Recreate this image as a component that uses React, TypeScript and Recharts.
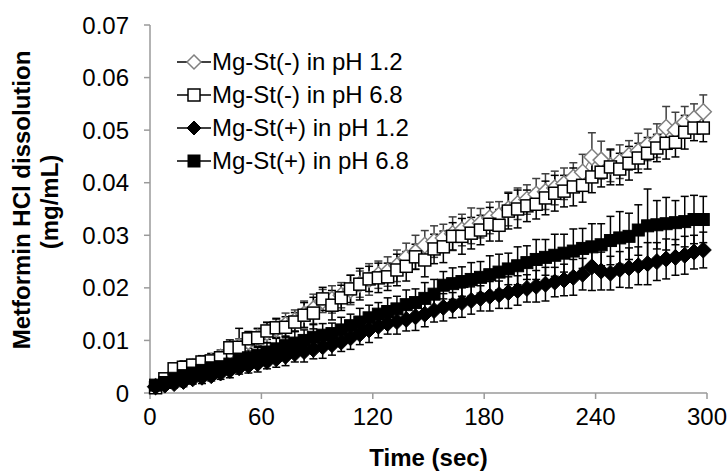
import { LineChart, Line, XAxis, YAxis, ErrorBar, Legend, Label } from 'recharts';

const FONT = '"Liberation Sans", Arial, sans-serif';

// sampling times (sec)
const times = [
  3, 8, 13, 18, 23, 28, 33, 38, 43, 48, 53, 58, 63, 68, 73, 78, 83, 88, 93, 98,
  103, 108, 113, 118, 123, 128, 133, 138, 143, 148, 153, 158, 163, 168, 173, 178, 183, 188, 193, 198,
  203, 208, 213, 218, 223, 228, 233, 238, 243, 248, 253, 258, 263, 268, 273, 278, 283, 288, 293, 298,
];

// Mg-St(-) in pH 1.2
const minusPh12 = [
  0.0012, 0.0022, 0.0035, 0.0045, 0.005, 0.0055, 0.006, 0.0068, 0.0078, 0.0088,
  0.0098, 0.0106, 0.0115, 0.0122, 0.013, 0.0138, 0.015, 0.016, 0.0175, 0.0178,
  0.0186, 0.0196, 0.0207, 0.0216, 0.0225, 0.0231, 0.0242, 0.0258, 0.0268, 0.0281,
  0.0288, 0.0295, 0.0303, 0.031, 0.0318, 0.0323, 0.0333, 0.0338, 0.035, 0.036,
  0.0368, 0.0378, 0.0383, 0.039, 0.0398, 0.041, 0.042, 0.0449, 0.0443, 0.0432,
  0.044, 0.0452, 0.046, 0.0472, 0.048, 0.0505, 0.05, 0.0515, 0.0522, 0.0535,
];
const minusPh12Err = [
  0.0008, 0.001, 0.0012, 0.0012, 0.0014, 0.0012, 0.0015, 0.0014, 0.0016, 0.0015,
  0.0018, 0.0016, 0.002, 0.0018, 0.0022, 0.002, 0.0025, 0.0028, 0.0022, 0.0026,
  0.0024, 0.0028, 0.0025, 0.003, 0.0026, 0.0028, 0.003, 0.0027, 0.0032, 0.0028,
  0.003, 0.0026, 0.0032, 0.003, 0.0034, 0.0028, 0.003, 0.0026, 0.0032, 0.003,
  0.0028, 0.003, 0.0034, 0.0032, 0.003, 0.0028, 0.0034, 0.0046, 0.0036, 0.003,
  0.0032, 0.0028, 0.0034, 0.003, 0.0032, 0.004, 0.0034, 0.003, 0.0028, 0.0032,
];

// Mg-St(-) in pH 6.8
const minusPh68 = [
  0.001, 0.0027, 0.0046, 0.0049, 0.0053, 0.0059, 0.0061, 0.0067, 0.0086, 0.0087,
  0.0103, 0.0105, 0.0118, 0.0124, 0.0125, 0.0135, 0.0148, 0.0152, 0.0179, 0.0167,
  0.0181, 0.0198, 0.0207, 0.0217, 0.0219, 0.0221, 0.0234, 0.0241, 0.0259, 0.0253,
  0.0274, 0.0278, 0.0298, 0.0298, 0.0304, 0.031, 0.0321, 0.0319, 0.0346, 0.035,
  0.0356, 0.0359, 0.0371, 0.038, 0.0384, 0.0392, 0.0395, 0.0411, 0.042, 0.043,
  0.0426, 0.0437, 0.0447, 0.0456, 0.0466, 0.0475, 0.0477, 0.0496, 0.0504, 0.0504,
];
const minusPh68Err = [
  0.0006, 0.0008, 0.001, 0.0012, 0.001, 0.0012, 0.0014, 0.0012, 0.0015, 0.0036,
  0.0014, 0.0018, 0.0016, 0.0018, 0.002, 0.0018, 0.0024, 0.003, 0.0022, 0.0028,
  0.0024, 0.0026, 0.003, 0.0024, 0.0028, 0.0026, 0.003, 0.0028, 0.0024, 0.0032,
  0.0028, 0.003, 0.0026, 0.0034, 0.003, 0.0028, 0.0032, 0.003, 0.0034, 0.0036,
  0.003, 0.0028, 0.0032, 0.0034, 0.003, 0.0036, 0.0032, 0.003, 0.0028, 0.0034,
  0.003, 0.0032, 0.0028, 0.003, 0.0026, 0.003, 0.0028, 0.0032, 0.0024, 0.0026,
];

// Mg-St(+) in pH 1.2
const plusPh12 = [
  0.0012, 0.0015, 0.0018, 0.0022, 0.0027, 0.003, 0.0033, 0.0038, 0.0043, 0.0048,
  0.0052, 0.0056, 0.006, 0.0065, 0.007, 0.0075, 0.0079, 0.0083, 0.0088, 0.0092,
  0.0097, 0.0105, 0.0112, 0.012, 0.0127, 0.0132, 0.0136, 0.014, 0.0145, 0.015,
  0.0157, 0.0163, 0.0167, 0.0172, 0.0176, 0.018, 0.0184, 0.0187, 0.0191, 0.0195,
  0.0199, 0.0203, 0.0207, 0.0211, 0.0215, 0.022, 0.0226, 0.024, 0.0232, 0.0228,
  0.0235, 0.0238, 0.0242, 0.0246, 0.025, 0.0255, 0.0258, 0.0262, 0.0268, 0.0272,
];
const plusPh12Err = [
  0.0006, 0.0008, 0.0008, 0.001, 0.001, 0.0012, 0.001, 0.0012, 0.0014, 0.0012,
  0.0014, 0.0016, 0.0014, 0.0016, 0.0018, 0.0016, 0.002, 0.0018, 0.0022, 0.002,
  0.0018, 0.0022, 0.002, 0.0024, 0.0022, 0.002, 0.0024, 0.0022, 0.0026, 0.0024,
  0.0022, 0.0026, 0.0024, 0.0028, 0.0026, 0.0024, 0.0028, 0.0026, 0.003, 0.0028,
  0.0026, 0.003, 0.0032, 0.0028, 0.003, 0.0034, 0.003, 0.0045, 0.0036, 0.0032,
  0.0034, 0.0038, 0.0036, 0.004, 0.0036, 0.0038, 0.0034, 0.0036, 0.0032, 0.0034,
];

// Mg-St(+) in pH 6.8
const plusPh68 = [
  0.0015, 0.002, 0.0028, 0.0033, 0.0038, 0.0043, 0.0048, 0.005, 0.0055, 0.0062,
  0.0067, 0.0072, 0.0078, 0.0084, 0.009, 0.0095, 0.01, 0.0106, 0.011, 0.0113,
  0.012, 0.0128, 0.0135, 0.0143, 0.015, 0.0155, 0.016, 0.0168, 0.0172, 0.018,
  0.0188, 0.0205, 0.0208, 0.0212, 0.0216, 0.022, 0.0225, 0.023, 0.0236, 0.0242,
  0.0248, 0.0254, 0.0258, 0.0262, 0.0266, 0.027, 0.0275, 0.0278, 0.0282, 0.029,
  0.0295, 0.0298, 0.031, 0.0318, 0.032, 0.0322, 0.0324, 0.0326, 0.033, 0.033,
];
const plusPh68Err = [
  0.0008, 0.001, 0.001, 0.0012, 0.0012, 0.0014, 0.0012, 0.0016, 0.0014, 0.0016,
  0.0018, 0.0016, 0.0018, 0.002, 0.0018, 0.0022, 0.002, 0.0024, 0.0022, 0.002,
  0.0024, 0.0022, 0.0026, 0.0024, 0.0022, 0.0026, 0.0024, 0.0028, 0.0026, 0.003,
  0.0028, 0.0026, 0.003, 0.0028, 0.0032, 0.003, 0.0036, 0.0034, 0.003, 0.0036,
  0.0032, 0.0038, 0.0034, 0.004, 0.0036, 0.0042, 0.0038, 0.0044, 0.004, 0.0046,
  0.005, 0.0044, 0.0048, 0.007, 0.0046, 0.005, 0.0042, 0.0048, 0.0046, 0.0044,
];

const xTicks = [0, 60, 120, 180, 240, 300];
const yTicks = [0, 0.01, 0.02, 0.03, 0.04, 0.05, 0.06, 0.07];

const seriesNames = [
  'Mg-St(-) in pH 1.2',
  'Mg-St(-) in pH 6.8',
  'Mg-St(+) in pH 1.2',
  'Mg-St(+) in pH 6.8',
];

const rows = times.map((t, i) => ({
  t,
  a: minusPh12[i],
  ea: minusPh12Err[i],
  b: minusPh68[i],
  eb: minusPh68Err[i],
  c: plusPh12[i],
  ec: plusPh12Err[i],
  d: plusPh68[i],
  ed: plusPh68Err[i],
}));

const AXIS = '#9a9a9a';
const GREY = '#808080';

const diamondPath = (cx: number, cy: number, r: number) =>
  `M${cx},${cy - r}L${cx + r},${cy}L${cx},${cy + r}L${cx - r},${cy}Z`;

// marker drawers, size s = half width
const markers = [
  (cx: number, cy: number, s = 8) => <path d={diamondPath(cx, cy, s)} fill="#fff" stroke={GREY} strokeWidth={1.5} />,
  (cx: number, cy: number, s = 6) => <rect x={cx - s} y={cy - s} width={2 * s} height={2 * s} fill="#fff" stroke="#000" strokeWidth={1.5} />,
  (cx: number, cy: number, s = 8) => <path d={diamondPath(cx, cy, s)} fill="#000" stroke="#000" strokeWidth={1} />,
  (cx: number, cy: number, s = 6) => <rect x={cx - s} y={cy - s} width={2 * s} height={2 * s} fill="#000" stroke="#000" strokeWidth={1} />,
];
const legendSizes = [7, 6, 7, 6];

const makeDot = (idx: number) => (props: any) => {
  const { cx, cy, index } = props;
  if (cx == null || cy == null) return <g key={`dot-${idx}-${index}`} />;
  return <g key={`dot-${idx}-${index}`}>{markers[idx](cx, cy)}</g>;
};

const LegendBox = () => (
  <div style={{ fontFamily: FONT, fontSize: 24, color: '#000' }}>
    {seriesNames.map((name, i) => (
      <div key={name} style={{ display: 'flex', alignItems: 'center', height: 33 }}>
        <svg width={36} height={20} style={{ marginRight: 0 }}>
          <line x1={1} y1={10} x2={35} y2={10} stroke="#000" strokeWidth={1.5} />
          {markers[i](18, 10, legendSizes[i])}
        </svg>
        <span>{name}</span>
      </div>
    ))}
  </div>
);

const YTitle = () => (
  <text transform="rotate(-90)" textAnchor="middle" fontFamily={FONT} fontWeight="bold" fontSize={24} fill="#000">
    <tspan x={-200} y={30}>Metformin HCl dissolution</tspan>
    <tspan x={-202} y={58}>(mg/mL)</tspan>
  </text>
);

export default function App() {
  const tickStyle = { fontFamily: FONT, fontSize: 24, fill: '#000' };
  return (
    <div style={{ position: 'absolute', left: 0, top: 0, background: '#fff' }}>
      <LineChart width={728} height={472} data={rows} margin={{ top: 25, right: 21, bottom: 0, left: 0 }}>
        <XAxis
          type="number"
          dataKey="t"
          domain={[0, 300]}
          ticks={xTicks}
          tick={tickStyle}
          tickSize={6}
          tickMargin={9}
          height={79}
          axisLine={{ stroke: AXIS, strokeWidth: 1.5 }}
          tickLine={{ stroke: AXIS, strokeWidth: 1.5 }}
        >
          <Label
            value="Time (sec)"
            position="insideBottom"
            offset={6}
            style={{ fontFamily: FONT, fontSize: 24, fontWeight: 'bold', fill: '#000' }}
          />
        </XAxis>
        <YAxis
          type="number"
          domain={[0, 0.07]}
          ticks={yTicks}
          tickFormatter={(v: number) => (v === 0 ? '0' : v.toFixed(2))}
          tick={tickStyle}
          tickSize={6}
          tickMargin={15}
          width={150}
          axisLine={{ stroke: AXIS, strokeWidth: 1.5 }}
          tickLine={{ stroke: AXIS, strokeWidth: 1.5 }}
          label={<YTitle />}
        />
        <Legend
          layout="vertical"
          align="center"
          verticalAlign="middle"
          content={<LegendBox />}
          wrapperStyle={{ position: 'absolute', top: 45, left: 176, width: 300 }}
        />
        <Line dataKey="a" stroke={GREY} strokeWidth={1.2} dot={makeDot(0)} activeDot={false} isAnimationActive={false}>
          <ErrorBar dataKey="ea" width={4} stroke="#404040" strokeWidth={1.5} direction="y" isAnimationActive={false} />
        </Line>
        <Line dataKey="b" stroke="#000" strokeWidth={1.2} dot={makeDot(1)} activeDot={false} isAnimationActive={false}>
          <ErrorBar dataKey="eb" width={4} stroke="#000" strokeWidth={1.5} direction="y" isAnimationActive={false} />
        </Line>
        <Line dataKey="c" stroke="#000" strokeWidth={1.2} dot={makeDot(2)} activeDot={false} isAnimationActive={false}>
          <ErrorBar dataKey="ec" width={4} stroke="#000" strokeWidth={1.5} direction="y" isAnimationActive={false} />
        </Line>
        <Line dataKey="d" stroke="#000" strokeWidth={1.2} dot={makeDot(3)} activeDot={false} isAnimationActive={false}>
          <ErrorBar dataKey="ed" width={4} stroke="#000" strokeWidth={1.5} direction="y" isAnimationActive={false} />
        </Line>
      </LineChart>
    </div>
  );
}
